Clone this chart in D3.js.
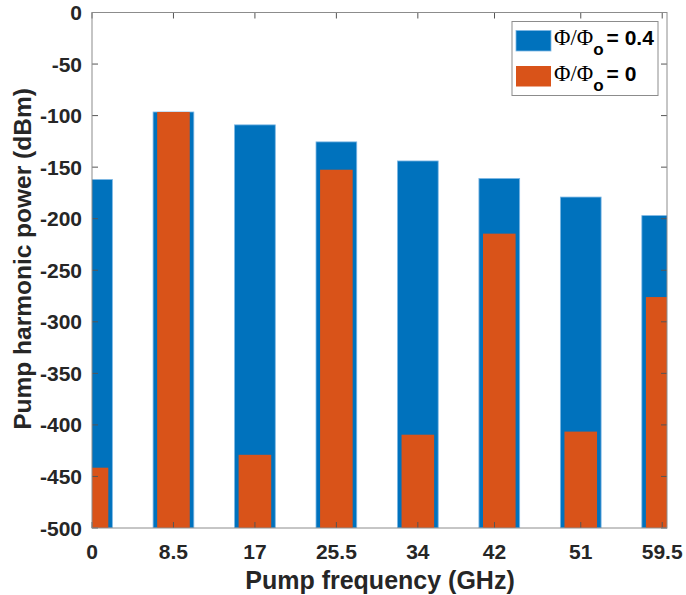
<!DOCTYPE html>
<html>
<head>
<meta charset="utf-8">
<script src="https://cdn.jsdelivr.net/npm/d3@7"></script>
<style>
  html, body { margin: 0; padding: 0; background: #fff; }
  svg { display: block; }
</style>
</head>
<body>
<svg id="chart" width="686" height="595"></svg>
<script>
// ---- data ----
const freqs = [0, 8.5, 17, 25.5, 34, 42.5, 51, 59.5];
const seriesNames = ["0.4", "0"];
const powerPhi04 = [-162, -96.5, -109, -125.5, -144, -161, -179, -197];
const powerPhi0 = [-441.5, -96.5, -429, -152.5, -409.5, -214.5, -406.5, -276];
const xTickValues = [0, 8.5, 17, 25.5, 34, 42, 51, 59.5];
const xTickLabels = ["0", "8.5", "17", "25.5", "34", "42", "51", "59.5"];
const yTickValues = [0, -50, -100, -150, -200, -250, -300, -350, -400, -450, -500];

// ---- layout ----
const pLeft = 92, pRight = 667, pTop = 12.5, pBottom = 528;
const blue = "#0072BD", orange = "#D95319";
const textColor = "#262626";
const font = "'Liberation Sans', Arial, sans-serif";

const svg = d3.select("#chart");
const x = d3.scaleLinear().domain([0, 60]).range([pLeft, pRight]);
const y = d3.scaleLinear().domain([-500, 0]).range([pBottom, pTop]);

svg.append("defs").append("clipPath").attr("id", "plotClip")
  .append("rect").attr("x", pLeft).attr("y", pTop).attr("width", pRight - pLeft).attr("height", pBottom - pTop);

const plot = svg.append("g").attr("clip-path", "url(#plotClip)");
const blueW = 4.25, orangeW = 3.4;

plot.selectAll("rect.b").data(freqs).join("rect")
  .attr("class", "b")
  .attr("x", (d) => x(d - blueW / 2))
  .attr("width", (d) => x(d + blueW / 2) - x(d - blueW / 2))
  .attr("y", (d, i) => y(powerPhi04[i]))
  .attr("height", (d, i) => y(-500) - y(powerPhi04[i]))
  .attr("fill", blue)
  .attr("stroke", "#7db7e4")
  .attr("stroke-width", 0.8);

plot.selectAll("rect.o").data(freqs).join("rect")
  .attr("class", "o")
  .attr("x", (d) => x(d - orangeW / 2))
  .attr("width", (d) => x(d + orangeW / 2) - x(d - orangeW / 2))
  .attr("y", (d, i) => y(powerPhi0[i]))
  .attr("height", (d, i) => y(-500) - y(powerPhi0[i]))
  .attr("fill", orange);

// ---- axes ----
const axisColor = "#8c8c8c";
const tickColor = "#555";
const tickLen = 6;

const gx = svg.append("g");
gx.selectAll("line.xb").data(xTickValues).join("line")
  .attr("class", "xb")
  .attr("x1", (d) => x(d)).attr("x2", (d) => x(d))
  .attr("y1", pBottom).attr("y2", pBottom - tickLen)
  .attr("stroke", tickColor).attr("stroke-width", 1);
gx.selectAll("line.xt").data(xTickValues).join("line")
  .attr("class", "xt")
  .attr("x1", (d) => x(d)).attr("x2", (d) => x(d))
  .attr("y1", pTop).attr("y2", pTop + tickLen)
  .attr("stroke", tickColor).attr("stroke-width", 1);
gx.selectAll("text").data(xTickValues).join("text")
  .attr("x", (d) => x(d)).attr("y", 559)
  .attr("text-anchor", "middle")
  .attr("font-family", font).attr("font-weight", "bold").attr("font-size", 21)
  .attr("fill", textColor)
  .text((d, i) => xTickLabels[i]);

const gy = svg.append("g");
gy.selectAll("line.yl").data(yTickValues).join("line")
  .attr("class", "yl")
  .attr("x1", pLeft).attr("x2", pLeft + tickLen)
  .attr("y1", (d) => y(d)).attr("y2", (d) => y(d))
  .attr("stroke", tickColor).attr("stroke-width", 1);
gy.selectAll("line.yr").data(yTickValues).join("line")
  .attr("class", "yr")
  .attr("x1", pRight).attr("x2", pRight - tickLen)
  .attr("y1", (d) => y(d)).attr("y2", (d) => y(d))
  .attr("stroke", tickColor).attr("stroke-width", 1);
gy.selectAll("text").data(yTickValues).join("text")
  .attr("x", 82).attr("y", (d) => y(d))
  .attr("dy", "0.36em")
  .attr("text-anchor", "end")
  .attr("font-family", font).attr("font-weight", "bold").attr("font-size", 21)
  .attr("fill", textColor)
  .text((d) => String(d));

svg.append("rect")
  .attr("x", pLeft).attr("y", pTop).attr("width", pRight - pLeft).attr("height", pBottom - pTop)
  .attr("fill", "none").attr("stroke", axisColor).attr("stroke-width", 1);

svg.append("text")
  .attr("x", (pLeft + pRight) / 2 + 0.5).attr("y", 589)
  .attr("text-anchor", "middle")
  .attr("font-family", font).attr("font-weight", "bold").attr("font-size", 25)
  .attr("fill", textColor)
  .text("Pump frequency (GHz)");

svg.append("text")
  .attr("transform", "translate(31,259) rotate(-90)")
  .attr("text-anchor", "middle")
  .attr("font-family", font).attr("font-weight", "bold").attr("font-size", 24.5)
  .attr("fill", textColor)
  .text("Pump harmonic power (dBm)");

// ---- legend ----
const lg = svg.append("g");
lg.append("rect")
  .attr("x", 512).attr("y", 21.5).attr("width", 146).attr("height", 74)
  .attr("fill", "#fff").attr("stroke", axisColor).attr("stroke-width", 1);
const legendColors = [blue, orange];
seriesNames.forEach((name, i) => {
  const yy = 30.5 + i * 35.5;
  lg.append("rect")
    .attr("x", 516).attr("y", yy).attr("width", 35).attr("height", 20.5)
    .attr("fill", legendColors[i])
    .attr("stroke", i === 0 ? "#7db7e4" : "none").attr("stroke-width", 0.8);
  const t = lg.append("text")
    .attr("x", 554).attr("y", yy + 14.5)
    .attr("font-size", 21).attr("fill", "#000");
  t.append("tspan").attr("font-family", "'Liberation Serif', 'Times New Roman', serif")
    .attr("font-size", 22.5).text("Φ/Φ");
  t.append("tspan").attr("font-family", font).attr("font-weight", "bold")
    .attr("dy", 10).attr("font-size", 17).text("o");
  t.append("tspan").attr("font-family", font).attr("font-weight", "bold")
    .attr("dy", -10).attr("dx", 3).text("= " + name);
});
</script>
</body>
</html>
